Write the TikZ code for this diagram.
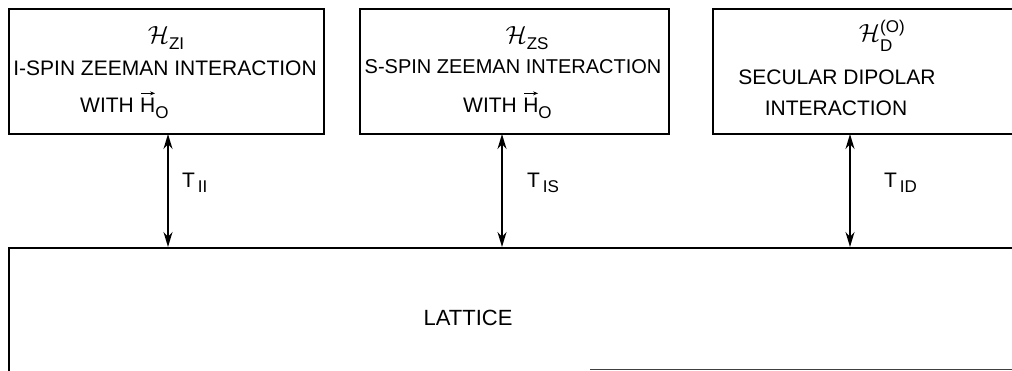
\documentclass[tikz,border=0pt]{standalone}
\usepackage{fontspec}
\setmainfont{Liberation Sans}
\usetikzlibrary{arrows.meta}
\newcommand{\mysub}[1]{\raisebox{-0.5ex}{\fontsize{17}{17}\selectfont #1}}
\newcommand{\scH}{{\fontsize{28}{28}\selectfont$\mathcal{H}$}}
\begin{document}
\begin{tikzpicture}[x=1pt,y=-1pt,
  boxline/.style={line width=1.9pt},
  txt/.style={inner sep=0pt,font=\fontsize{21}{21}\selectfont},
  vecarrow/.style={line width=1.2pt,-{Stealth[length=5pt,width=4pt]}},
  link/.style={line width=1.8pt,{Stealth[length=15pt,width=9pt]}-{Stealth[length=15pt,width=9pt]}}]
\useasboundingbox (0,0) rectangle (1012,371);
\clip (0,0) rectangle (1012,371);
\fill[white] (0,0) rectangle (1012,371);
% boxes
\node[boxline,draw,anchor=north west,minimum width=315pt,minimum height=125pt,inner sep=0pt] (b1) at (8,8) {};
\node[boxline,draw,anchor=north west,minimum width=309pt,minimum height=125pt,inner sep=0pt] (b2) at (359,8) {};
\node[boxline,draw,anchor=north west,minimum width=330pt,minimum height=125pt,inner sep=0pt] (b3) at (712,8) {};
\node[anchor=north west,minimum width=1010pt,minimum height=130pt,inner sep=0pt] (lat) at (9,248) {};
\draw[boxline] (lat.south west) -- (lat.north west) -- (lat.north east);
\coordinate (lbA) at (590,369.5);
\coordinate (lbB) at (1012,369.5);
\draw[line width=1.4pt,black!75] (lbA) -- (lbB);
% box 1 texts
\node[txt] (h1) at (166,38) {\scH\mysub{ZI}};
\node[txt] (t1a) at (165,68) {I-SPIN ZEEMAN INTERACTION};
\node[txt,anchor=base west] (w1) at (80,113) {WITH};
\node[txt,anchor=base west] (hv1) at ([xshift=6pt]w1.base east) {H\mysub{O}};
\draw[vecarrow] ([xshift=1pt,yshift=5pt]hv1.north west) -- ([xshift=15pt,yshift=5pt]hv1.north west);
% box 2 texts
\node[txt] (h2) at (527,38) {\scH\mysub{ZS}};
\node[txt,font=\fontsize{20}{20}\selectfont] (t2a) at (513,67) {S-SPIN ZEEMAN INTERACTION};
\node[txt,anchor=base west] (w2) at (463,113) {WITH};
\node[txt,anchor=base west] (hv2) at ([xshift=6pt]w2.base east) {H\mysub{O}};
\draw[vecarrow] ([xshift=1pt,yshift=5pt]hv2.north west) -- ([xshift=15pt,yshift=5pt]hv2.north west);
% box 3 texts
\node[txt] (h3) at (882,36) {\scH$^{\raisebox{0.1ex}{\fontsize{17}{17}\selectfont(O)}}_{\raisebox{-0.5ex}{\fontsize{17}{17}\selectfont D}}$};
\node[txt] (t3a) at (837,77) {SECULAR DIPOLAR};
\node[txt] (t3b) at (836,108) {INTERACTION};
% lattice text
\node[txt,font=\fontsize{22}{22}\selectfont] (lt) at (468,318) {LATTICE};
% arrows
\coordinate (a1t) at (168,134); \coordinate (a1b) at (168,247);
\coordinate (a2t) at (502,134); \coordinate (a2b) at (502,247);
\coordinate (a3t) at (850,134); \coordinate (a3b) at (850,247);
\draw[link] (a1t) -- (a1b);
\draw[link] (a2t) -- (a2b);
\draw[link] (a3t) -- (a3b);
\node[txt,anchor=west] (l1) at (182,183) {T\mysub{\,II}};
\node[txt,anchor=west] (l2) at (527,183) {T\mysub{\,IS}};
\node[txt,anchor=west] (l3) at (884,183) {T\mysub{\,ID}};
\end{tikzpicture}
\end{document}
